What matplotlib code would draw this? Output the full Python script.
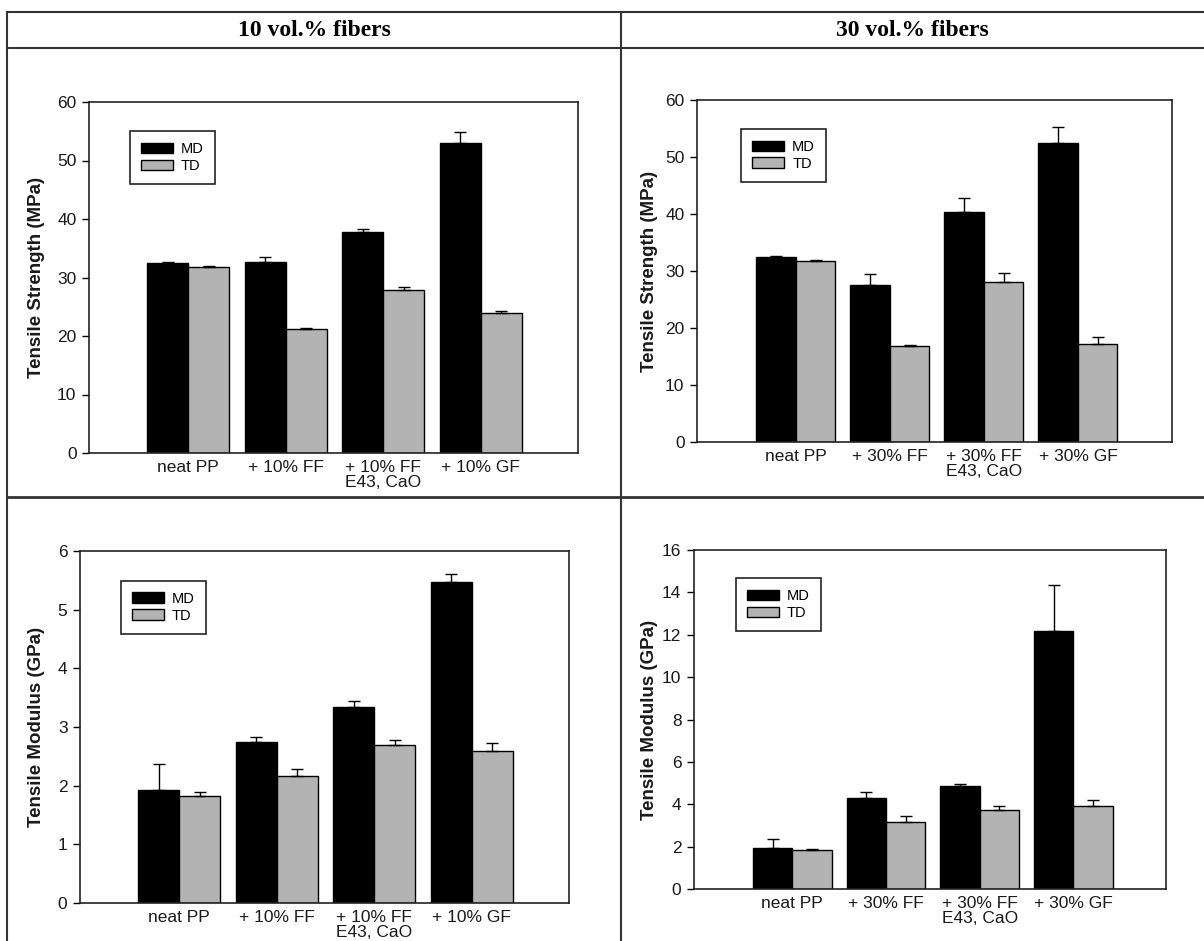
import numpy as np
import matplotlib
matplotlib.use("Agg")
import matplotlib.pyplot as plt
from matplotlib.lines import Line2D
from matplotlib.patches import Patch

# ---------------- data ----------------
cats10 = ["neat PP", "+ 10% FF", "+ 10% FF\nE43, CaO", "+ 10% GF"]
cats30 = ["neat PP", "+ 30% FF", "+ 30% FF\nE43, CaO", "+ 30% GF"]

ts10_md = [32.5, 32.7, 37.8, 53.0]
ts10_md_err = [0.2, 0.8, 0.5, 1.9]
ts10_td = [31.8, 21.2, 27.9, 24.0]
ts10_td_err = [0.2, 0.2, 0.4, 0.2]

ts30_md = [32.4, 27.6, 40.4, 52.4]
ts30_md_err = [0.3, 1.8, 2.4, 2.9]
ts30_td = [31.7, 16.8, 28.0, 17.2]
ts30_td_err = [0.2, 0.3, 1.7, 1.3]

tm10_md = [1.93, 2.74, 3.34, 5.47]
tm10_md_err = [0.44, 0.09, 0.11, 0.14]
tm10_td = [1.83, 2.17, 2.69, 2.59]
tm10_td_err = [0.06, 0.11, 0.09, 0.14]

tm30_md = [1.92, 4.31, 4.87, 12.17]
tm30_md_err = [0.45, 0.25, 0.10, 2.19]
tm30_td = [1.82, 3.14, 3.73, 3.90]
tm30_td_err = [0.05, 0.29, 0.20, 0.28]

headers = ["10 vol.% fibers", "30 vol.% fibers"]
ylabel_ts = "Tensile Strength (MPa)"
ylabel_tm = "Tensile Modulus (GPa)"
series = ["MD", "TD"]

# ---------------- styling ----------------
W, H = 1204, 941
DPI = 100
plt.rcParams['font.family'] = ['Liberation Sans', 'DejaVu Sans']
MD_COLOR = "black"
TD_COLOR = "#b3b3b3"
LINE_COL = "#333333"
TXT_COL = "#1a1a1a"

fig = plt.figure(figsize=(W / DPI, H / DPI), dpi=DPI)
fig.patch.set_facecolor("white")


def px_axes(left, right, top, bottom):
    return fig.add_axes([left / W, 1 - bottom / H, (right - left) / W, (bottom - top) / H])


def fig_line(x0, y0, x1, y1, lw=1.5):
    fig.add_artist(Line2D([x0 / W, x1 / W], [1 - y0 / H, 1 - y1 / H],
                          transform=fig.transFigure, color=LINE_COL, lw=lw))


# table lines
fig_line(7, 12, W, 12)
fig_line(7, 48, W, 48)
fig_line(7, 497, W, 497, lw=2)
fig_line(7, 12, 7, H)
fig_line(621, 12, 621, H)

for txt, cx in zip(headers, [314, 912]):
    fig.text(cx / W, 1 - 30 / H, txt, ha="center", va="center",
             fontsize=17, fontweight="bold", family=["Liberation Serif", "DejaVu Serif"])


def panel(box, cats, md, md_err, td, td_err, ymax, ystep, ylabel, xlim, lab_px, leg_xy):
    ax = px_axes(*box)
    x = np.arange(len(cats))
    w = 0.42
    ekw = dict(capsize=4.5, elinewidth=1.0, capthick=1.0, ecolor="black")
    ax.bar(x - w / 2, md, w, color=MD_COLOR, edgecolor="black", linewidth=1.0,
           yerr=[np.zeros(len(md)), md_err], error_kw=ekw, zorder=2)
    ax.bar(x + w / 2, td, w, color=TD_COLOR, edgecolor="black", linewidth=1.0,
           yerr=[np.zeros(len(td)), td_err], error_kw=ekw, zorder=2)
    ax.set_xlim(*xlim)
    ax.set_ylim(0, ymax)
    ax.set_yticks(np.arange(0, ymax + 0.001, ystep))
    ax.set_xticks(x)
    ax.set_xticklabels(cats, fontsize=12.5, color=TXT_COL, linespacing=1.0)
    ax.tick_params(axis="x", length=0, pad=5)
    ax.tick_params(axis="y", direction="out", length=5, width=1, labelsize=12.5,
                   labelcolor=TXT_COL, pad=4)
    for s in ax.spines.values():
        s.set_linewidth(1.2)
        s.set_color("#222222")
    ax.set_ylabel(ylabel, fontsize=13.5, fontweight="bold", color=TXT_COL)
    ax.yaxis.label.set_va("center")
    ax.yaxis.set_label_coords((lab_px - box[0]) / (box[1] - box[0]), 0.5)
    handles = [Patch(facecolor=MD_COLOR, edgecolor="black", linewidth=1.0),
               Patch(facecolor=TD_COLOR, edgecolor="black", linewidth=1.0)]
    leg = ax.legend(handles, series, loc="upper left", bbox_to_anchor=leg_xy,
                    borderaxespad=0, frameon=True, fancybox=False, framealpha=1,
                    edgecolor="#222222", fontsize=10.5, handlelength=2.2,
                    handleheight=0.75, handletextpad=0.55, borderpad=0.75,
                    labelspacing=0.2)
    leg.get_frame().set_linewidth(1.2)
    return ax


panel((89, 578, 102, 453), cats10, ts10_md, ts10_md_err, ts10_td, ts10_td_err,
      60, 10, ylabel_ts, (-1.02, 4.0), 37, (0.084, 0.917))
panel((697, 1172, 100, 442), cats30, ts30_md, ts30_md_err, ts30_td, ts30_td_err,
      60, 10, ylabel_ts, (-1.05, 4.0), 650, (0.093, 0.915))
panel((80, 569, 551, 903), cats10, tm10_md, tm10_md_err, tm10_td, tm10_td_err,
      6, 1, ylabel_tm, (-1.02, 4.0), 37, (0.084, 0.915))
panel((694, 1166, 550, 889), cats30, tm30_md, tm30_md_err, tm30_td, tm30_td_err,
      16, 2, ylabel_tm, (-1.05, 3.99), 650, (0.089, 0.917))

fig.savefig("out.png", dpi=DPI, facecolor="white")
